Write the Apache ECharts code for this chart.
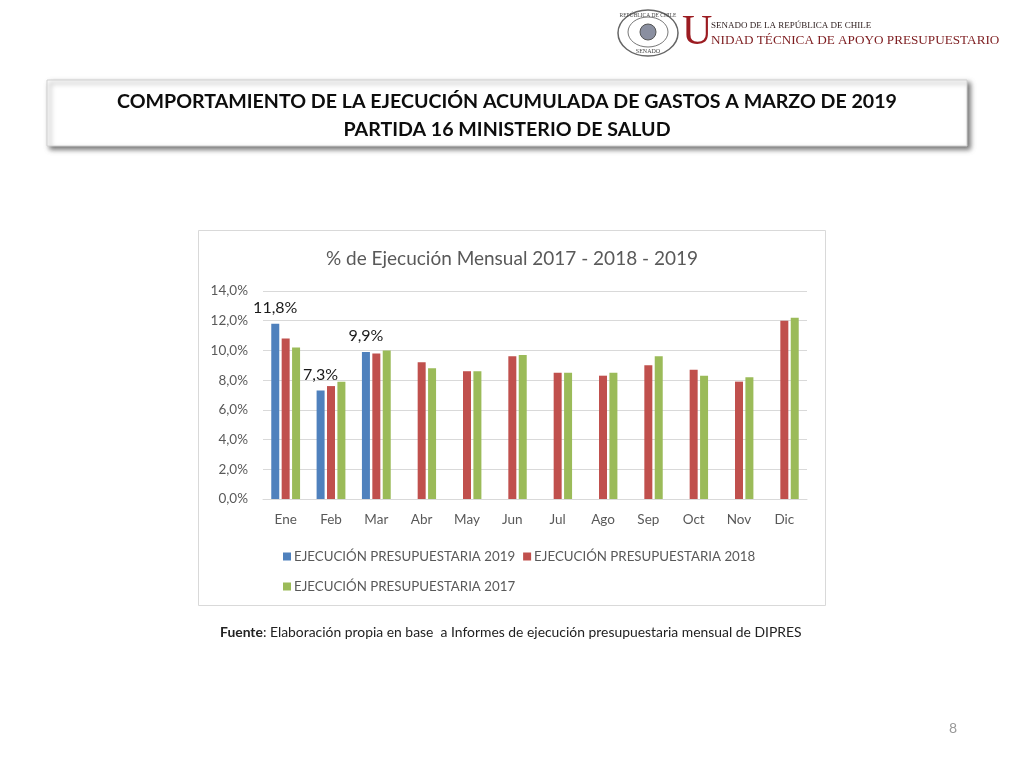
<!DOCTYPE html>
<html>
<head>
<meta charset="utf-8">
<script src="https://cdn.jsdelivr.net/npm/echarts@6/dist/echarts.min.js"></script>
<style>
html,body{margin:0;padding:0;background:#fff;}
#chart{width:1024px;height:768px;}
</style>
</head>
<body>
<div id="chart"></div>
<script>
const categories = ['Ene','Feb','Mar','Abr','May','Jun','Jul','Ago','Sep','Oct','Nov','Dic'];
const ejec2019 = [11.8, 7.3, 9.9, null, null, null, null, null, null, null, null, null];
const ejec2018 = [10.8, 7.6, 9.8, 9.2, 8.6, 9.6, 8.5, 8.3, 9.0, 8.7, 7.9, 12.0];
const ejec2017 = [10.2, 7.9, 10.0, 8.8, 8.6, 9.7, 8.5, 8.5, 9.6, 8.3, 8.2, 12.2];
const seriesNames = ['EJECUCIÓN PRESUPUESTARIA 2019','EJECUCIÓN PRESUPUESTARIA 2018','EJECUCIÓN PRESUPUESTARIA 2017'];
const yTicks = {min: 0, max: 14, interval: 2};
const pageTitle1 = 'COMPORTAMIENTO DE LA EJECUCIÓN ACUMULADA DE GASTOS A MARZO DE 2019';
const pageTitle2 = 'PARTIDA 16 MINISTERIO DE SALUD';
const chartTitle = '% de Ejecución Mensual 2017 - 2018 - 2019';
const sourceText = 'Elaboración propia en base  a Informes de ejecución presupuestaria mensual de DIPRES';

const fmt = v => Number(v).toFixed(1).replace('.', ',') + '%';
const FONT = 'Lato, "Open Sans", sans-serif';
const GRAY = '#595959';

const chart = echarts.init(document.getElementById('chart'), null, {renderer: 'canvas'});
chart.setOption({
  backgroundColor: '#ffffff',
  animation: false,
  textStyle: {fontFamily: FONT},
  graphic: [
    // chart frame
    {type: 'rect', z: -10, shape: {x: 198.5, y: 230.5, width: 627, height: 375}, style: {fill: '#fff', stroke: '#d9d9d9', lineWidth: 1}},
    // title box with shadow
    {type: 'rect', z: 5, shape: {x: 47, y: 80, width: 920, height: 66},
      style: {fill: '#fff', stroke: '#d0d0d0', lineWidth: 1, shadowColor: 'rgba(0,0,0,0.55)', shadowBlur: 5, shadowOffsetX: 3, shadowOffsetY: 3}},
    {type: 'text', z: 6, x: 507, y: 102, style: {text: pageTitle1, fontFamily: FONT, fontWeight: 'bold', fontSize: 19.6, fill: '#0d0d0d', align: 'center', verticalAlign: 'middle'}},
    {type: 'text', z: 6, x: 507, y: 130, style: {text: pageTitle2, fontFamily: FONT, fontWeight: 'bold', fontSize: 19.6, fill: '#0d0d0d', align: 'center', verticalAlign: 'middle'}},
    // logo seal
    {type: 'ellipse', z: 5, shape: {cx: 648, cy: 33, rx: 30, ry: 23}, style: {fill: '#fff', stroke: '#666', lineWidth: 1.5}},
    {type: 'ellipse', z: 5, shape: {cx: 648, cy: 32, rx: 20, ry: 15}, style: {fill: '#fff', stroke: '#777', lineWidth: 1}},
    {type: 'circle', z: 5, shape: {cx: 648, cy: 32, r: 8}, style: {fill: '#8a8fa0', stroke: '#555', lineWidth: 1}},
    {type: 'text', z: 6, x: 648, y: 16, style: {text: 'REPÚBLICA DE CHILE', fontFamily: '"Liberation Serif", serif', fontSize: 5.5, fill: '#444', align: 'center', verticalAlign: 'middle'}},
    {type: 'text', z: 6, x: 648, y: 51, style: {text: 'SENADO', fontFamily: '"Liberation Serif", serif', fontSize: 6, fill: '#444', align: 'center', verticalAlign: 'middle'}},
    // logo text
    {type: 'text', z: 6, x: 682, y: 33, style: {text: 'U', fontFamily: '"Liberation Serif", serif', fontSize: 42, fill: '#9b1b21', align: 'left', verticalAlign: 'middle'}},
    {type: 'text', z: 6, x: 711, y: 26, style: {text: 'SENADO DE LA REPÚBLICA DE CHILE', fontFamily: '"Liberation Serif", serif', fontSize: 9, fill: '#2a1a1a', align: 'left', verticalAlign: 'middle'}},
    {type: 'text', z: 6, x: 711, y: 41, style: {text: 'NIDAD TÉCNICA DE APOYO PRESUPUESTARIO', fontFamily: '"Liberation Serif", serif', fontSize: 13.2, fill: '#7d1c1f', align: 'left', verticalAlign: 'middle'}},
    // source
    {type: 'text', z: 6, x: 220, y: 633, style: {
      text: '{b|Fuente}: ' + sourceText,
      fontFamily: FONT, fontSize: 13.9, fill: '#222', align: 'left', verticalAlign: 'middle',
      rich: {b: {fontFamily: FONT, fontSize: 13.9, fontWeight: 'bold', fill: '#222'}}}},
    // page number
    {type: 'text', z: 6, x: 953, y: 728, style: {text: '8', fontFamily: FONT, fontSize: 14, fill: '#9a9a9a', align: 'center', verticalAlign: 'middle'}}
  ],
  title: {
    text: chartTitle, left: 'center', top: 244,
    textStyle: {fontFamily: FONT, fontSize: 19, fontWeight: 'normal', color: GRAY}
  },
  legend: [
    {data: [seriesNames[0], seriesNames[1]], left: 278, top: 545, orient: 'horizontal',
      icon: 'rect', itemWidth: 8, itemHeight: 8, itemGap: 8,
      textStyle: {fontFamily: FONT, fontSize: 13.3, color: GRAY, padding: [0,0,0,-2]}},
    {data: [seriesNames[2]], left: 278, top: 575, orient: 'horizontal',
      icon: 'rect', itemWidth: 8, itemHeight: 8, itemGap: 8,
      textStyle: {fontFamily: FONT, fontSize: 13.3, color: GRAY, padding: [0,0,0,-2]}}
  ],
  grid: {left: 263, right: 217, top: 291, bottom: 269, containLabel: false},
  xAxis: {
    type: 'category', data: categories,
    axisLine: {lineStyle: {color: '#d9d9d9'}},
    axisTick: {show: false},
    axisLabel: {fontFamily: FONT, fontSize: 13.5, color: GRAY, margin: 14}
  },
  yAxis: {
    type: 'value', min: yTicks.min, max: yTicks.max, interval: yTicks.interval,
    axisLine: {show: false}, axisTick: {show: false},
    splitLine: {lineStyle: {color: '#d9d9d9', width: 1}},
    axisLabel: {fontFamily: FONT, fontSize: 13.5, color: GRAY, margin: 15, formatter: v => fmt(v)}
  },
  series: [
    {name: seriesNames[0], type: 'bar', data: ejec2019, barWidth: 8, barGap: '30%',
      itemStyle: {color: '#4f81bd'},
      label: {show: true, position: 'top', distance: 8, fontFamily: FONT, fontSize: 16, color: '#1a1a1a',
        formatter: p => p.value == null ? '' : fmt(p.value)}},
    {name: seriesNames[1], type: 'bar', data: ejec2018, barWidth: 8, barGap: '30%',
      itemStyle: {color: '#c0504d'}},
    {name: seriesNames[2], type: 'bar', data: ejec2017, barWidth: 8, barGap: '30%',
      itemStyle: {color: '#9bbb59'}}
  ]
});
</script>
</body>
</html>
